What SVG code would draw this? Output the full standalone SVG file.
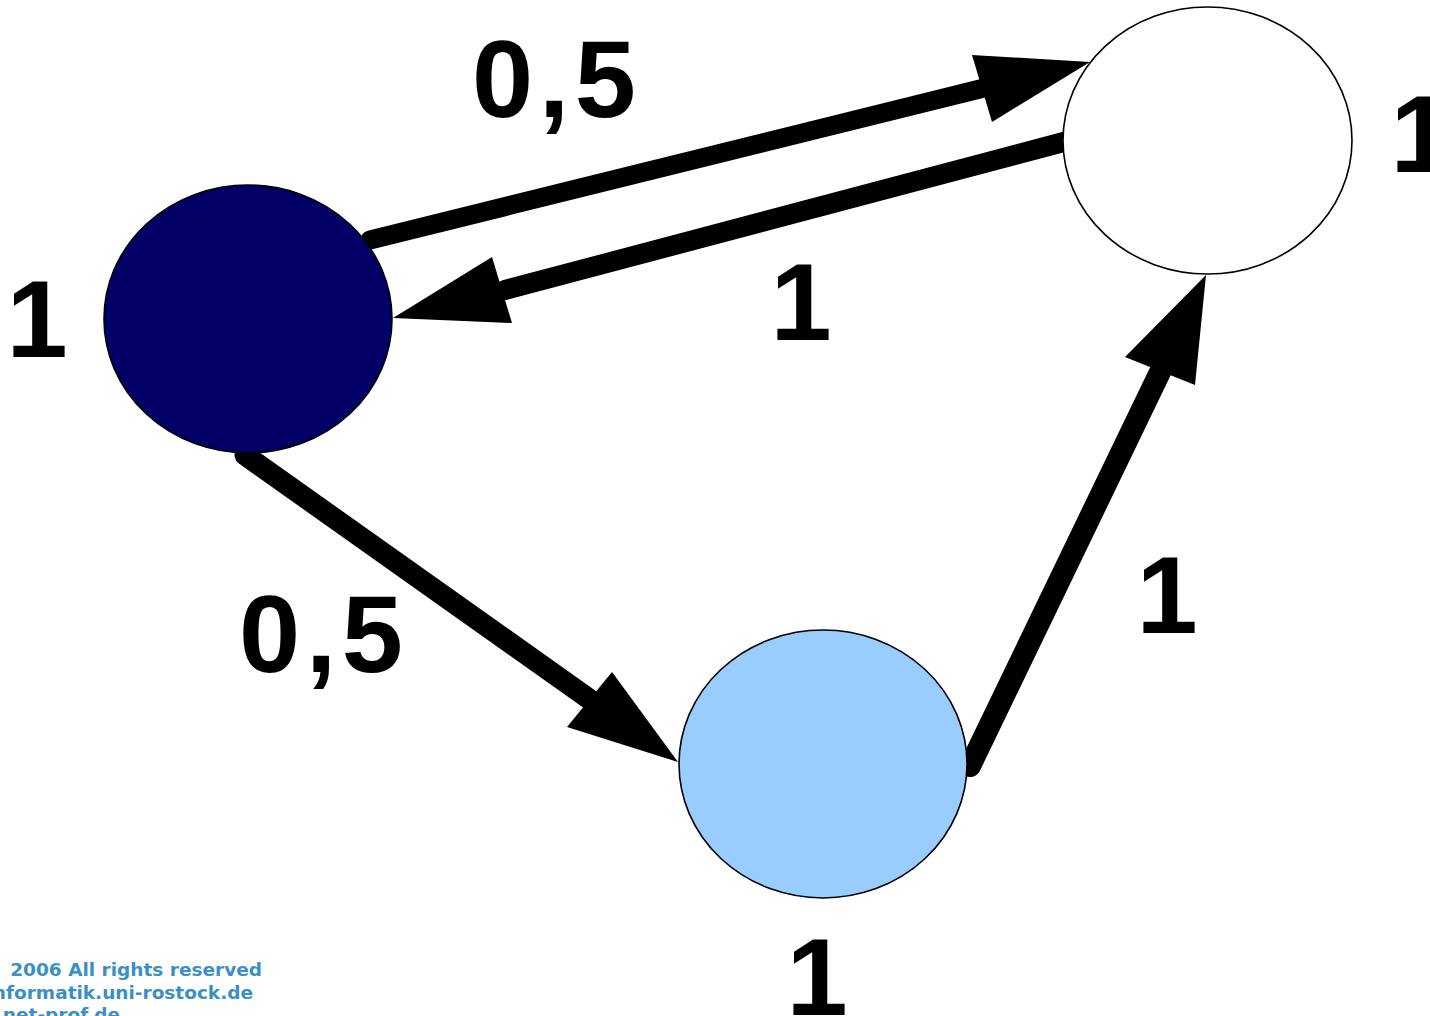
<svg xmlns="http://www.w3.org/2000/svg" width="1430" height="1016" viewBox="0 0 1430 1016">
<style>
.shaft{stroke:#000;fill:none;stroke-linecap:round}
.head{fill:#000}
.node{stroke:#000;stroke-width:1.6}
.lbl{font-family:"Liberation Sans",Arial,sans-serif;font-weight:bold;font-size:110px;fill:#000}
.foot{font-family:"DejaVu Sans",Verdana,sans-serif;font-weight:bold;font-size:18.5px;fill:#3a8fc6}
</style>
<rect width="1430" height="1016" fill="#fff"/>
<g id="connectors">
  <line class="shaft" x1="370" y1="240" x2="984" y2="88" stroke-width="19"/>
  <polygon class="head" points="1090,62 972,55 992,122"/>
  <line class="shaft" x1="1075" y1="139" x2="505" y2="290" stroke-width="20"/>
  <polygon class="head" points="393,318 492,257 512,323"/>
  <line class="shaft" x1="245" y1="455" x2="592" y2="701" stroke-width="21"/>
  <polygon class="head" points="678,762 612,672 567,727"/>
  <line class="shaft" x1="970" y1="766" x2="1161" y2="370" stroke-width="22"/>
  <polygon class="head" points="1206,275 1125,357 1195,385"/>
</g>
<g id="node-left"><ellipse class="node" cx="248" cy="319" rx="144" ry="134" fill="#000066"/></g>
<g id="node-right"><ellipse class="node" cx="1207.5" cy="140.5" rx="144.5" ry="133.5" fill="#ffffff"/></g>
<g id="node-bottom"><ellipse class="node" cx="823" cy="764" rx="144" ry="134" fill="#99ccff"/></g>
<g id="labels">
  <text class="lbl" x="472" y="117" textLength="164" lengthAdjust="spacing">0,5</text>
  <text class="lbl" x="239" y="672" textLength="164" lengthAdjust="spacing">0,5</text>
  <text class="lbl" x="37" y="357" text-anchor="middle" font-size="106">1</text>
  <text class="lbl" x="1421" y="172" text-anchor="middle" font-size="106">1</text>
  <text class="lbl" x="801" y="340" text-anchor="middle" font-size="106">1</text>
  <text class="lbl" x="1167" y="633" text-anchor="middle" font-size="106">1</text>
  <text class="lbl" x="817" y="1015" text-anchor="middle" font-size="106">1</text>
</g>
<g id="footer">
  <text class="foot" x="262" y="976" text-anchor="end">2006 All rights reserved</text>
  <text class="foot" x="253" y="999" text-anchor="end">nformatik.uni-rostock.de</text>
  <text class="foot" x="120" y="1021" text-anchor="end">net-prof.de</text>
</g>
</svg>
